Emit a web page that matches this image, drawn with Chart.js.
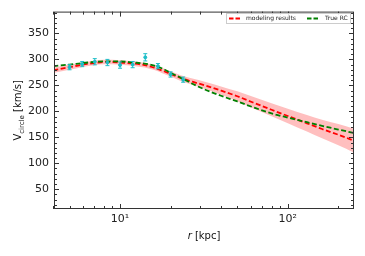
<!DOCTYPE html>
<html>
<head>
<meta charset="utf-8">
<script src="https://cdn.jsdelivr.net/npm/chart.js@4.4.1/dist/chart.umd.min.js"></script>
<style>
  html, body { margin: 0; padding: 0; background: #fff; }
  #wrap { width: 365px; height: 256px; }
</style>
</head>
<body>
<div id="wrap"><canvas id="chart" width="365" height="256"></canvas></div>
<script>
// Model curve (red), true rotation curve (green), band half-width
var radius = [4, 5, 6, 7, 8, 9, 10, 12, 14, 16, 18, 20, 23, 27, 32, 40, 50, 62, 80, 100, 130, 160, 200, 250];
var modelV = [279, 285, 290, 293, 295, 295, 294, 292, 289, 284, 278, 272, 264, 257, 250, 240, 229, 217, 203, 191, 177, 166, 155, 143];
var modelErr = [5, 5, 4.5, 4.5, 4.5, 4.5, 4.5, 4.5, 4.5, 4.5, 5, 5, 5.5, 6, 7, 8, 9.5, 11, 12.5, 14, 16, 18, 20.5, 23];
var trueV = [287, 290, 293, 295, 296, 296, 296, 294, 292, 288, 282, 274, 265, 253, 242, 230, 219, 208, 196, 188, 179, 172, 165, 158];

// Observed points with error bars (cyan)
var obsR = [5, 5.95, 7.07, 8.41, 10, 11.89, 14.14, 16.82, 20, 23.78];
var obsV = [285, 291, 295.5, 294, 289, 290, 304, 287, 271, 261];
var obsErr = [5, 5, 6, 6, 6, 6, 7, 5, 5, 5];

// Axis ticks
var xMajor = [10, 100];
var xMinor = [4, 5, 6, 7, 8, 9, 20, 30, 40, 50, 60, 70, 80, 90, 200];
var yMajor = [50, 100, 150, 200, 250, 300, 350];

function pts(xv, yv) {
    return xv.map(function (x, i) { return { x: x, y: yv[i] }; });
}

var upper = modelV.map(function (v, i) { return v + modelErr[i]; });
var lower = modelV.map(function (v, i) { return v - modelErr[i]; });

var FONT = "'DejaVu Sans', sans-serif";
var cyan = 'rgb(30,190,200)';

var overlay = {
    id: 'overlay',
    afterDatasetsDraw: function (chart) {
        var ctx = chart.ctx, xs = chart.scales.x, ys = chart.scales.y;
        // error bars
        ctx.save();
        ctx.strokeStyle = cyan;
        ctx.lineWidth = 1;
        obsR.forEach(function (r, i) {
            var px = xs.getPixelForValue(r);
            var y1 = ys.getPixelForValue(obsV[i] - obsErr[i]);
            var y2 = ys.getPixelForValue(obsV[i] + obsErr[i]);
            ctx.beginPath();
            ctx.moveTo(px, y1); ctx.lineTo(px, y2);
            ctx.moveTo(px - 2, y1); ctx.lineTo(px + 2, y1);
            ctx.moveTo(px - 2, y2); ctx.lineTo(px + 2, y2);
            ctx.stroke();
        });
        ctx.restore();
    },
    afterDraw: function (chart) {
        var ctx = chart.ctx, xs = chart.scales.x, ys = chart.scales.y, a = chart.chartArea;
        ctx.save();
        // frame
        ctx.strokeStyle = '#333';
        ctx.lineWidth = 1;
        ctx.strokeRect(a.left + 0.5, a.top + 0.5, a.right - a.left - 1, a.bottom - a.top - 1);

        // inward ticks on all four sides
        ctx.beginPath();
        function xt(v, len) {
            var p = Math.round(xs.getPixelForValue(v)) + 0.5;
            ctx.moveTo(p, a.bottom); ctx.lineTo(p, a.bottom - len);
            ctx.moveTo(p, a.top); ctx.lineTo(p, a.top + len);
        }
        function yt(v, len) {
            var p = Math.round(ys.getPixelForValue(v)) + 0.5;
            ctx.moveTo(a.left, p); ctx.lineTo(a.left + len, p);
            ctx.moveTo(a.right, p); ctx.lineTo(a.right - len, p);
        }
        xMajor.forEach(function (v) { xt(v, 5); });
        xMinor.forEach(function (v) { xt(v, 3); });
        for (var v = 20; v <= 390; v += 10) {
            yt(v, v % 50 === 0 ? 5 : 3);
        }
        ctx.stroke();

        // axis titles
        ctx.fillStyle = '#111';
        ctx.textBaseline = 'alphabetic';
        ctx.font = 'italic 10px ' + FONT;
        var rw = ctx.measureText('r').width;
        ctx.font = '10px ' + FONT;
        var kw = ctx.measureText(' [kpc]').width;
        var cx = (a.left + a.right) / 2 - (rw + kw) / 2;
        ctx.font = 'italic 10px ' + FONT;
        ctx.textAlign = 'left';
        ctx.fillText('r', cx, 239);
        ctx.font = '10px ' + FONT;
        ctx.fillText(' [kpc]', cx + rw, 239);

        ctx.save();
        ctx.translate(21, (a.top + a.bottom) / 2);
        ctx.rotate(-Math.PI / 2);
        ctx.font = '10px ' + FONT;
        var w1 = ctx.measureText('V').width;
        var w3 = ctx.measureText(' [km/s]').width;
        ctx.font = '7px ' + FONT;
        var w2 = ctx.measureText('circle').width;
        var sx = -(w1 + w2 + w3) / 2;
        ctx.font = '10px ' + FONT;
        ctx.fillText('V', sx, 0);
        ctx.font = '7px ' + FONT;
        ctx.fillText('circle', sx + w1, 2.5);
        ctx.font = '10px ' + FONT;
        ctx.fillText(' [km/s]', sx + w1 + w2, 0);
        ctx.restore();

        // legend
        var lx = 226, ly = 13, lw = 125, lh = 11;
        ctx.fillStyle = 'rgba(255,255,255,0.85)';
        ctx.fillRect(lx, ly, lw, lh);
        ctx.strokeStyle = '#ccc';
        ctx.lineWidth = 1;
        ctx.strokeRect(lx + 0.5, ly + 0.5, lw - 1, lh - 1);
        ctx.lineWidth = 1.8;
        ctx.setLineDash([4.5, 2]);
        ctx.strokeStyle = 'red';
        ctx.beginPath(); ctx.moveTo(229, 18.5); ctx.lineTo(242, 18.5); ctx.stroke();
        ctx.strokeStyle = 'green';
        ctx.beginPath(); ctx.moveTo(307, 18.5); ctx.lineTo(320, 18.5); ctx.stroke();
        ctx.setLineDash([]);
        ctx.fillStyle = '#222';
        ctx.font = '6px ' + FONT;
        ctx.textBaseline = 'middle';
        ctx.fillText('modeling results', 246, 18.5);
        ctx.fillText('True RC', 325, 18.5);
        ctx.restore();
    }
};

var ctx = document.getElementById('chart').getContext('2d');
var chart = new Chart(ctx, {
    type: 'line',
    data: {
        datasets: [
            {
                data: pts(radius, upper),
                borderWidth: 0,
                pointRadius: 0,
                backgroundColor: 'rgba(255,0,0,0.25)',
                fill: '+1',
                cubicInterpolationMode: 'monotone',
                order: 5
            },
            {
                data: pts(radius, lower),
                borderWidth: 0,
                pointRadius: 0,
                fill: false,
                cubicInterpolationMode: 'monotone',
                order: 5
            },
            {
                label: 'modeling results',
                data: pts(radius, modelV),
                borderColor: 'red',
                borderWidth: 1.8,
                borderDash: [5, 2.5],
                pointRadius: 0,
                fill: false,
                cubicInterpolationMode: 'monotone',
                order: 4
            },
            {
                label: 'True RC',
                data: pts(radius, trueV),
                borderColor: 'green',
                borderWidth: 1.8,
                borderDash: [5, 2.5],
                pointRadius: 0,
                fill: false,
                cubicInterpolationMode: 'monotone',
                order: 3
            },
            {
                type: 'scatter',
                data: pts(obsR, obsV),
                backgroundColor: cyan,
                borderColor: cyan,
                pointRadius: 1.5,
                order: 1
            }
        ]
    },
    options: {
        responsive: false,
        animation: false,
        devicePixelRatio: 1,
        layout: { padding: { top: 10, right: 11, left: 0, bottom: 0 } },
        plugins: { legend: { display: false }, tooltip: { enabled: false } },
        scales: {
            x: {
                type: 'logarithmic',
                min: 4.04,
                max: 248,
                afterBuildTicks: function (scale) {
                    scale.ticks = xMajor.map(function (v) { return { value: v }; });
                },
                afterFit: function (scale) { scale.height = 47; },
                grid: { display: true, drawOnChartArea: false, drawTicks: false },
                border: { display: false },
                ticks: {
                    autoSkip: false,
                    maxRotation: 0,
                    padding: 4,
                    color: '#222',
                    font: { family: FONT, size: 11 },
                    callback: function (v) { return v === 10 ? '10\u00b9' : v === 100 ? '10\u00b2' : ''; }
                }
            },
            y: {
                type: 'linear',
                min: 12,
                max: 392,
                afterBuildTicks: function (scale) {
                    scale.ticks = yMajor.map(function (v) { return { value: v }; });
                },
                afterFit: function (scale) { scale.width = 54; },
                grid: { display: true, drawOnChartArea: false, drawTicks: false },
                border: { display: false },
                ticks: {
                    padding: 5,
                    color: '#222',
                    font: { family: FONT, size: 11 }
                }
            }
        }
    },
    plugins: [overlay]
});
</script>
</body>
</html>
